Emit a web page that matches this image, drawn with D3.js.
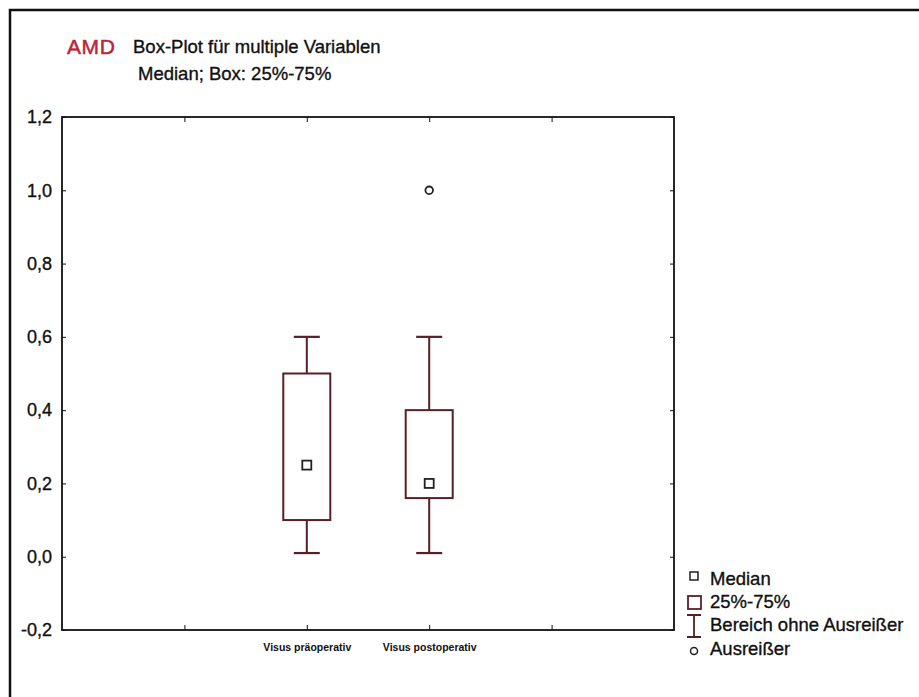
<!DOCTYPE html>
<html>
<head>
<meta charset="utf-8">
<script src="https://cdn.jsdelivr.net/npm/d3@7"></script>
<style>
  body { margin: 0; background: #fff; }
  text { font-family: "Liberation Sans", Arial, sans-serif; fill: #111; }
  .scan { stroke: #111; stroke-width: 0.35px; }
  .axis path, .axis line { stroke: #111; }
</style>
</head>
<body>
<div id="chart"></div>
<script>
// x positions (the two outer slots stay empty, as in the original)
var slots = ["s0", "pre", "post", "s3"];
var slotLabels = ["", "Visus präoperativ", "Visus postoperativ", ""];

// box statistics per variable
var variables = ["pre", "post"];
var whiskerLow = [0.01, 0.01];
var q25 = [0.10, 0.16];
var medians = [0.25, 0.20];
var q75 = [0.50, 0.40];
var whiskerHigh = [0.60, 0.60];

// outliers
var outlierVar = ["post"];
var outlierVal = [1.0];

var yTicks = [-0.2, 0, 0.2, 0.4, 0.6, 0.8, 1.0, 1.2];
var legendLabels = ["Median", "25%-75%", "Bereich ohne Ausreißer", "Ausreißer"];

var W = 919, H = 697;
var margin = {top: 117, right: 245, bottom: 67, left: 62},
    width = W - margin.left - margin.right,
    height = H - margin.top - margin.bottom;

var boxColor = "#5a1f26";

var svg = d3.select("#chart").append("svg")
  .attr("width", W)
  .attr("height", H);

// outer frame of the scanned page (only top and left edges visible)
svg.append("rect")
  .attr("x", 10).attr("y", 10)
  .attr("width", 1000).attr("height", 1000)
  .attr("fill", "none")
  .attr("stroke", "#111")
  .attr("stroke-width", 2.5);

// titles
svg.append("text")
  .attr("x", 67).attr("y", 54)
  .style("font-size", "21px")
  .style("letter-spacing", "0.6px")
  .style("fill", "#c0223a")
  .style("stroke", "#c0223a").style("stroke-width", "0.5px")
  .text("AMD");
svg.append("text")
  .attr("class", "scan")
  .attr("x", 133).attr("y", 53)
  .style("font-size", "18.5px")
  .text("Box-Plot für multiple Variablen");
svg.append("text")
  .attr("class", "scan")
  .attr("x", 138).attr("y", 80)
  .style("font-size", "18.5px")
  .text("Median; Box: 25%-75%");

var g = svg.append("g")
  .attr("transform", "translate(" + margin.left + "," + margin.top + ")");

var x = d3.scalePoint().domain(slots).range([0, width]).padding(1);
var y = d3.scaleLinear().domain([-0.2, 1.2]).range([height, 0]);

var fmt = function(d) { return d3.format(".1f")(d).replace(".", ",").replace("\u2212", "-"); };

// axes with inward ticks on all four sides
g.append("g").attr("class", "axis")
  .call(d3.axisLeft(y).tickValues(yTicks).tickSizeInner(-4).tickSizeOuter(0).tickPadding(10).tickFormat(fmt))
  .call(function(a) {
    a.selectAll("text").attr("class", "scan").style("font-size", "18px");
    a.select(".domain").remove();
  });
g.append("g").attr("class", "axis")
  .attr("transform", "translate(" + width + ",0)")
  .call(d3.axisRight(y).tickValues(yTicks).tickSizeInner(-4).tickSizeOuter(0).tickFormat(""))
  .call(function(a) { a.select(".domain").remove(); });
g.append("g").attr("class", "axis")
  .attr("transform", "translate(0," + height + ")")
  .call(d3.axisBottom(x).tickSizeInner(-5).tickSizeOuter(0).tickPadding(14)
    .tickFormat(function(d, i) { return slotLabels[i]; }))
  .call(function(a) {
    a.selectAll("text").style("font-size", "10.5px").style("font-weight", "bold");
    a.select(".domain").remove();
  });
g.append("g").attr("class", "axis")
  .call(d3.axisTop(x).tickSizeInner(-5).tickSizeOuter(0).tickFormat(""))
  .call(function(a) { a.select(".domain").remove(); });

g.append("rect")
  .attr("width", width).attr("height", height)
  .attr("fill", "none")
  .attr("stroke", "#111")
  .attr("stroke-width", 1.8);

// boxes
var boxW = 47, capW = 26, medS = 9;
var boxes = g.selectAll(".box")
  .data(variables)
  .enter().append("g")
  .attr("class", "box");

boxes.append("line")
  .attr("x1", function(d) { return x(d); })
  .attr("x2", function(d) { return x(d); })
  .attr("y1", function(d, i) { return y(whiskerHigh[i]); })
  .attr("y2", function(d, i) { return y(q75[i]); })
  .attr("stroke", boxColor).attr("stroke-width", 2);
boxes.append("line")
  .attr("x1", function(d) { return x(d); })
  .attr("x2", function(d) { return x(d); })
  .attr("y1", function(d, i) { return y(q25[i]); })
  .attr("y2", function(d, i) { return y(whiskerLow[i]); })
  .attr("stroke", boxColor).attr("stroke-width", 2);
boxes.append("line")
  .attr("x1", function(d) { return x(d) - capW / 2; })
  .attr("x2", function(d) { return x(d) + capW / 2; })
  .attr("y1", function(d, i) { return y(whiskerHigh[i]); })
  .attr("y2", function(d, i) { return y(whiskerHigh[i]); })
  .attr("stroke", boxColor).attr("stroke-width", 2.2);
boxes.append("line")
  .attr("x1", function(d) { return x(d) - capW / 2; })
  .attr("x2", function(d) { return x(d) + capW / 2; })
  .attr("y1", function(d, i) { return y(whiskerLow[i]); })
  .attr("y2", function(d, i) { return y(whiskerLow[i]); })
  .attr("stroke", boxColor).attr("stroke-width", 2.2);
boxes.append("rect")
  .attr("x", function(d) { return x(d) - boxW / 2; })
  .attr("y", function(d, i) { return y(q75[i]); })
  .attr("width", boxW)
  .attr("height", function(d, i) { return y(q25[i]) - y(q75[i]); })
  .attr("fill", "#fff")
  .attr("stroke", boxColor).attr("stroke-width", 2);
boxes.append("rect")
  .attr("x", function(d) { return x(d) - medS / 2; })
  .attr("y", function(d, i) { return y(medians[i]) - medS / 2; })
  .attr("width", medS).attr("height", medS)
  .attr("fill", "#fff")
  .attr("stroke", "#222").attr("stroke-width", 1.8);

// outliers
g.selectAll(".outlier")
  .data(outlierVal)
  .enter().append("circle")
  .attr("class", "outlier")
  .attr("cx", function(d, i) { return x(outlierVar[i]); })
  .attr("cy", function(d) { return y(d); })
  .attr("r", 3.8)
  .attr("fill", "#fff")
  .attr("stroke", "#222").attr("stroke-width", 1.8);

// legend
var leg = svg.append("g").attr("transform", "translate(694,0)");
var legY = [585, 608, 631, 655];
leg.selectAll(".ltext")
  .data(legendLabels)
  .enter().append("text")
  .attr("class", "scan")
  .attr("x", 16)
  .attr("y", function(d, i) { return legY[i]; })
  .style("font-size", "18.5px")
  .text(function(d) { return d; });

leg.append("rect")
  .attr("x", -4).attr("y", 572).attr("width", 8).attr("height", 8)
  .attr("fill", "none").attr("stroke", "#222").attr("stroke-width", 1.5);
leg.append("rect")
  .attr("x", -6).attr("y", 596).attr("width", 13).attr("height", 13)
  .attr("fill", "none").attr("stroke", boxColor).attr("stroke-width", 1.8);
leg.append("path")
  .attr("d", "M-7,615H7M0,615V637M-7,637H7")
  .attr("fill", "none").attr("stroke", boxColor).attr("stroke-width", 1.8);
leg.append("circle")
  .attr("cx", 0).attr("cy", 651).attr("r", 3.5)
  .attr("fill", "none").attr("stroke", "#222").attr("stroke-width", 1.5);
</script>
</body>
</html>
